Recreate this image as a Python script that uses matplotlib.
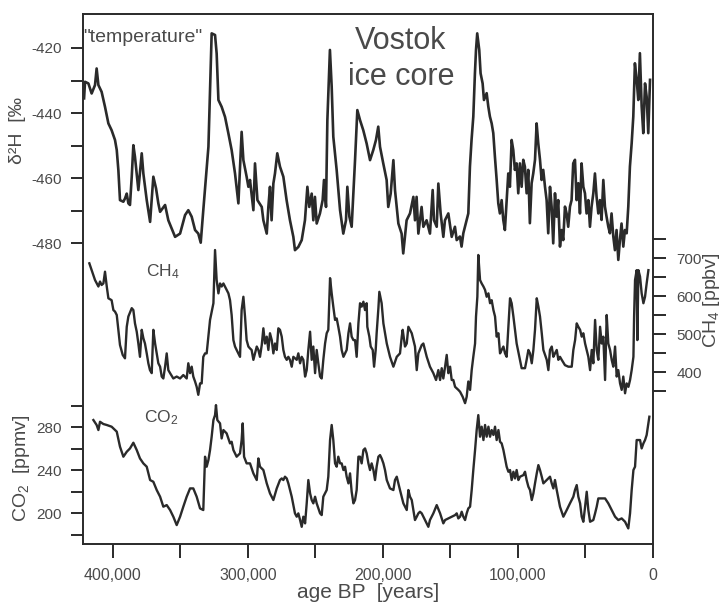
import matplotlib
matplotlib.use('Agg')
import matplotlib.pyplot as plt
from matplotlib.ticker import FuncFormatter, FixedLocator

plt.rcParams['font.family'] = ['Liberation Sans', 'DejaVu Sans']
plt.rcParams['mathtext.fontset'] = 'custom'
plt.rcParams['mathtext.rm'] = 'Liberation Sans'
plt.rcParams['mathtext.it'] = 'Liberation Sans:italic'
plt.rcParams['mathtext.default'] = 'regular'
plt.rcParams['axes.unicode_minus'] = False

# ---------------- data (age in kyr BP) ----------------
temp_age = [421.4, 420.7, 418.2, 415.8, 413.3, 412.1, 410.8, 408.4, 405.9, 403.4, 401.0, 398.5, 397.2, 396.0,
            394.8, 392.3, 391.1, 389.8, 388.6, 387.4, 386.1, 384.9, 383.7, 381.2, 378.7, 377.5, 375.0, 372.5,
            370.1, 368.1, 366.4, 365.1, 361.4, 359.0, 354.0, 350.3, 346.6, 344.2, 341.7, 339.2, 336.8, 335.0,
            333.1, 329.3, 326.9, 324.4, 323.2, 321.9, 319.5, 317.0, 314.5, 312.1, 309.6, 307.1, 304.7, 303.4,
            301.0, 299.7, 298.5, 296.0, 294.8, 293.0, 289.8, 288.6, 286.1, 284.9, 283.7, 282.5, 281.2, 280.0,
            278.3, 276.3, 273.8, 271.4, 268.9, 266.4, 265.2, 262.7, 260.2, 257.8, 256.0, 254.6, 252.8, 251.6,
            250.4, 249.1, 246.7, 244.7, 243.7, 242.2, 241.2, 239.3, 238.0, 236.8, 234.3, 231.8, 229.4, 227.4,
            226.4, 224.9, 223.2, 220.7, 219.0, 217.0, 214.6, 212.1, 209.6, 207.2, 205.2, 203.5, 202.2, 199.8,
            197.3, 196.1, 194.3, 192.3, 191.1, 188.6, 186.2, 185.0, 182.5, 180.0, 177.5, 176.3, 175.1, 173.8,
            171.4, 170.1, 167.7, 165.2, 163.2, 162.2, 160.2, 159.0, 157.3, 155.3, 154.1, 151.6, 149.1, 146.7,
            145.4, 143.0, 141.8, 140.5, 139.3, 136.8, 135.6, 134.4, 133.1, 131.9, 131.1, 130.2, 128.7, 127.7,
            126.2, 125.2, 123.2, 122.0, 120.8, 119.5, 118.3, 117.1, 115.8, 114.6, 113.4, 112.1, 110.9, 109.7,
            108.4, 107.2, 106.0, 104.7, 103.5, 102.3, 101.0, 99.8, 98.6, 97.3, 96.1, 94.9, 93.6, 92.4, 91.2,
            89.9, 88.7, 87.4, 86.2, 85.0, 83.7, 82.5, 81.3, 80.0, 78.8, 77.6, 76.3, 75.1, 73.9, 72.6, 71.4,
            70.2, 68.9, 67.7, 66.5, 65.2, 64.0, 62.8, 61.5, 60.3, 59.1, 57.8, 56.6, 55.3, 54.1, 52.9, 51.6,
            50.4, 49.2, 47.9, 46.7, 45.5, 44.2, 43.0, 41.8, 40.5, 39.3, 38.1, 36.8, 35.6, 34.4, 33.1, 31.9,
            30.7, 29.4, 28.2, 27.0, 25.7, 24.5, 23.3, 22.0, 20.8, 19.5, 18.3, 17.1, 15.8, 14.6, 13.4, 12.1,
            10.9, 9.7, 8.4, 7.2, 5.9, 4.7, 3.5, 2.2]
temp_dH = [-435.5, -430.4, -430.9, -434.0, -431.4, -426.3, -431.4, -433.5, -438.1, -443.2, -445.3, -448.3, -451.4, -457.6,
           -466.8, -467.3, -466.3, -464.8, -467.8, -468.3, -459.6, -449.9, -453.5, -463.7, -452.4, -458.6, -466.8, -473.5,
           -459.6, -463.2, -467.8, -470.4, -468.3, -473.0, -478.1, -477.1, -471.4, -469.9, -471.9, -476.0, -477.1, -479.9,
           -469.9, -450.4, -415.5, -416.0, -421.7, -436.0, -438.1, -441.2, -446.3, -451.4, -458.6, -467.8, -445.8, -454.5,
           -459.6, -462.7, -460.6, -469.9, -455.5, -466.8, -468.9, -473.0, -477.1, -468.9, -462.7, -473.0, -461.7, -458.6,
           -452.4, -456.5, -459.6, -466.8, -473.0, -478.1, -482.2, -481.2, -479.1, -473.0, -462.7, -468.9, -464.8, -473.0,
           -465.8, -474.0, -470.9, -466.8, -460.6, -468.9, -442.2, -420.6, -431.9, -447.3, -457.6, -469.9, -477.1, -473.0,
           -462.7, -471.9, -475.0, -454.5, -439.1, -442.2, -445.3, -449.4, -454.5, -451.4, -448.3, -444.2, -450.4, -455.5,
           -460.6, -468.9, -464.8, -454.5, -463.7, -474.0, -477.1, -483.2, -473.0, -470.9, -465.8, -473.0, -465.8, -477.1,
           -468.9, -475.0, -473.0, -477.1, -463.7, -473.0, -475.0, -461.7, -470.9, -478.1, -473.0, -470.9, -478.1, -475.0,
           -479.1, -478.0, -481.1, -477.0, -475.0, -470.9, -456.5, -448.3, -441.1, -427.8, -420.6, -415.5, -420.6, -427.8,
           -430.9, -436.0, -433.9, -438.0, -441.1, -443.2, -446.2, -453.4, -460.6, -467.8, -470.9, -466.8, -472.9, -476.0,
           -466.8, -458.6, -462.7, -448.3, -451.4, -457.5, -455.5, -464.7, -455.5, -462.7, -454.4, -456.5, -464.7, -457.5, -473.9,
           -461.6, -458.6, -454.4, -443.2, -449.3, -454.4, -460.6, -457.5, -462.7, -466.8, -477.0, -462.7, -468.8, -480.1, -464.7, -471.9,
           -466.8, -481.1, -476.0, -479.1, -468.8, -470.9, -475.0, -468.8, -466.8, -455.5, -454.4, -466.8, -461.6, -470.9, -455.5, -462.7,
           -464.7, -470.9, -466.8, -475.0, -468.8, -464.7, -458.6, -465.7, -470.9, -466.8, -472.9, -460.6, -468.8, -471.9, -475.0, -477.0,
           -470.9, -478.0, -482.2, -476.0, -485.2, -479.1, -474.0, -481.1, -476.0, -477.0, -468.8, -456.5, -449.3, -441.1, -424.7, -429.8,
           -436.0, -421.6, -438.0, -446.2, -430.9, -435.0, -446.2, -429.8]

ch4_age = [417.5, 415.8, 413.3, 410.8, 409.6, 408.4, 407.1, 405.9, 404.6, 403.4, 401.0, 399.7, 398.5, 397.2, 394.8,
           392.8, 391.1, 389.8, 388.6, 386.1, 384.9, 383.7, 382.4, 381.2, 380.0, 378.7, 377.5, 376.3, 375.0, 373.8,
           372.6, 371.3, 370.1, 368.8, 367.6, 366.4, 365.1, 363.9, 362.7, 361.4, 360.2, 359.0, 357.7, 355.3, 352.8,
           350.3, 347.9, 345.4, 344.2, 342.9, 341.7, 340.5, 339.2, 338.0, 336.8, 335.5, 334.3, 333.1, 331.8, 330.6,
           328.1, 325.6, 324.4, 323.2, 321.9, 320.7, 319.5, 318.2, 315.8, 314.5, 313.3, 312.1, 310.8, 309.6, 308.4,
           305.9, 304.7, 303.4, 302.2, 301.0, 299.7, 298.5, 297.3, 296.0, 294.8, 293.5, 292.3, 291.1, 289.8, 288.6,
           287.4, 286.1, 284.9, 283.7, 282.4, 281.2, 280.0, 278.7, 277.5, 276.3, 275.0, 273.8, 272.6, 271.3, 270.1,
           268.9, 267.6, 266.4, 265.2, 263.9, 262.7, 261.4, 260.2, 259.0, 257.7, 256.5, 255.3, 254.0, 252.8, 251.6,
           250.3, 249.1, 247.9, 246.6, 245.4, 244.2, 242.9, 241.7, 240.5, 239.2, 238.0, 236.8, 235.5, 234.3, 233.1,
           231.8, 230.6, 229.3, 226.9, 225.6, 224.4, 223.2, 221.9, 220.7, 219.5, 218.2, 217.0, 215.8, 214.5, 213.3,
           212.1, 211.6, 210.1, 209.1, 207.6, 206.6, 205.4, 204.7, 203.4, 202.7, 201.0, 199.7, 197.2, 194.8, 192.3,
           189.8, 187.4, 186.1, 185.4, 183.7, 182.4, 181.2, 178.7, 176.3, 175.0, 173.8, 171.3, 170.1, 167.6, 165.2,
           162.7, 160.7, 159.0, 157.7, 156.5, 155.3, 154.0, 152.8, 151.6, 150.3, 149.1, 147.9, 146.6, 144.2, 142.9,
           141.0, 139.2, 138.0, 136.8, 135.5, 134.3, 133.1, 131.8, 131.1, 130.1, 129.4, 128.1, 126.9, 125.6, 124.4,
           123.2, 121.9, 120.7, 119.5, 118.2, 117.0, 115.8, 114.5, 113.3, 112.1, 110.8, 109.6, 108.4, 107.1, 105.9,
           104.7, 103.4, 102.2, 101.0, 98.5, 97.3, 94.8, 93.6, 92.3, 91.1, 89.8, 88.6, 87.4, 86.1, 84.9, 83.7,
           82.4, 81.2, 78.7, 77.5, 76.3, 75.0, 73.8, 72.6, 71.3, 70.1, 68.9, 67.6, 65.2, 62.7, 60.2, 59.0, 57.7,
           56.5, 55.3, 54.0, 52.8, 51.6, 50.3, 49.1, 47.9, 46.6, 45.4, 44.2, 42.9, 41.7, 40.5, 39.2, 38.0, 36.8,
           35.5, 34.3, 33.1, 31.8, 30.6, 29.4, 28.1, 26.9, 25.7, 24.4, 23.2, 22.0, 20.7, 19.5, 18.2, 17.0, 15.8,
           14.5, 14.0, 13.3, 12.1, 11.6, 10.8, 9.6, 8.4, 7.1, 5.9, 4.7, 3.4]
ch4_ppbv = [686, 668, 642, 625, 638, 629, 633, 664, 625, 594, 589, 563, 559, 550, 471,
            445, 436, 519, 546, 568, 563, 528, 506, 475, 440, 511, 489, 475, 449, 423,
            405, 397, 511, 475, 449, 423, 414, 388, 383, 414, 449, 405, 397, 383, 388,
            383, 392, 383, 423, 397, 414, 388, 375, 361, 340, 370, 370, 440, 449, 449,
            537, 581, 721, 642, 607, 633, 625, 633, 616, 607, 589, 550, 484, 467, 458,
            440, 563, 598, 546, 484, 467, 462, 458, 432, 449, 467, 458, 440, 471, 515,
            475, 493, 458, 502, 484, 449, 475, 458, 515, 511, 493, 458, 440, 432, 440,
            432, 414, 440, 436, 432, 449, 423, 440, 432, 388, 405, 458, 506, 432, 467,
            397, 458, 423, 388, 383, 432, 475, 502, 511, 647, 607, 572, 537, 541, 519,
            493, 458, 440, 458, 502, 528, 493, 484, 484, 440, 528, 581, 572, 585, 563,
            581, 519, 493, 467, 458, 414, 458, 502, 568, 611, 581, 528, 475, 440, 414,
            440, 449, 493, 511, 467, 475, 519, 502, 467, 405, 449, 471, 475, 440, 414,
            397, 379, 405, 379, 410, 383, 414, 445, 397, 414, 379, 379, 361, 353, 348,
            335, 318, 335, 375, 353, 405, 440, 475, 546, 598, 708, 642, 633, 625, 616,
            598, 607, 581, 589, 563, 546, 493, 502, 449, 458, 467, 449, 440, 519, 594,
            581, 546, 511, 475, 432, 410, 410, 432, 458, 449, 423, 458, 511, 594, 572, 546,
            502, 458, 432, 405, 458, 467, 440, 449, 458, 432, 440, 432, 418, 414, 414, 458, 484,
            528, 519, 511, 493, 502, 475, 458, 440, 405, 458, 423, 537, 458, 432, 519, 475, 493,
            379, 550, 475, 458, 432, 414, 467, 388, 405, 370, 353, 388, 344, 370, 361, 379, 405,
            440, 546, 642, 668, 484, 668, 651, 607, 581, 598, 633, 668]

co2_age = [414.5, 412.1, 410.8, 409.6, 407.1, 404.6, 401.0, 397.2, 394.8, 392.3, 389.8, 387.4, 384.9, 382.4,
           380.0, 377.5, 375.0, 372.5, 370.1, 367.6, 365.1, 362.7, 360.2, 357.7, 355.3, 352.8, 350.3, 347.9,
           345.4, 342.9, 340.5, 338.0, 335.5, 333.1, 331.8, 330.6, 329.3, 328.1, 326.9, 325.6, 324.4, 323.7,
           322.7, 320.7, 319.5, 318.2, 315.8, 313.3, 312.1, 310.8, 308.4, 305.9, 304.7, 303.9, 302.9, 301.0,
           298.5, 296.0, 293.5, 292.3, 291.1, 288.6, 286.1, 283.7, 281.2, 278.7, 276.3, 275.0, 273.8, 272.6,
           271.3, 270.1, 267.6, 265.2, 263.9, 262.7, 261.4, 260.2, 259.0, 257.7, 256.5, 255.3, 254.0, 252.8,
           251.6, 250.3, 249.1, 246.6, 245.4, 244.2, 241.7, 240.5, 239.2, 238.0, 236.8, 235.5, 234.3, 233.1,
           231.8, 230.6, 229.3, 228.1, 226.9, 225.6, 224.4, 223.2, 221.9, 220.7, 219.5, 218.2, 217.0, 215.8,
           214.5, 213.3, 212.1, 210.8, 209.6, 208.4, 207.1, 205.9, 204.7, 203.4, 202.2, 201.0, 199.7, 198.5,
           197.2, 194.8, 192.3, 191.1, 189.8, 188.6, 187.4, 184.9, 182.4, 181.2, 180.0, 178.7, 177.5, 176.3,
           175.0, 173.8, 172.6, 171.3, 168.9, 166.4, 165.2, 162.7, 160.2, 157.7, 155.3, 154.0, 151.6, 149.1,
           146.6, 145.4, 144.2, 142.9, 141.7, 140.5, 139.2, 138.0, 136.8, 135.5, 134.3, 133.1, 131.8, 130.6,
           129.4, 128.1, 126.9, 125.6, 124.4, 123.2, 121.9, 120.7, 119.5, 118.2, 117.0, 115.8, 114.5, 113.3,
           112.1, 110.8, 109.6, 108.4, 107.1, 105.9, 104.7, 103.4, 102.2, 101.0, 99.7, 98.5, 96.0, 94.8, 93.6,
           92.3, 91.1, 89.8, 88.6, 87.4, 86.1, 84.9, 83.7, 82.4, 81.2, 78.7, 76.3, 75.0, 73.8, 72.6, 71.3,
           68.9, 66.4, 63.9, 61.5, 59.0, 57.8, 56.5, 55.3, 54.0, 52.8, 51.6, 50.3, 49.1, 47.9, 46.6, 44.2,
           42.9, 41.7, 40.5, 38.0, 35.5, 33.1, 30.6, 28.1, 25.7, 23.2, 20.7, 18.3, 17.0, 15.8, 14.5, 13.3,
           12.1, 10.8, 9.6, 8.4, 7.1, 5.9, 4.7, 3.4, 2.7]
co2_ppmv = [286.5, 281.9, 277.2, 284.9, 282.8, 281.9, 280.3, 275.7, 261.7, 252.4, 257.0, 260.1, 265.4, 258.6,
            250.8, 246.2, 243.1, 230.7, 229.1, 221.4, 215.2, 205.9, 207.4, 202.8, 196.6, 188.8, 196.6, 205.9,
            215.2, 222.9, 222.9, 215.2, 204.3, 202.8, 252.4, 243.1, 249.3, 258.6, 271.0, 286.5, 291.1, 300.4,
            286.5, 283.4, 269.4, 277.2, 274.1, 264.8, 266.3, 258.6, 252.4, 255.5, 267.9, 283.4, 252.4, 246.2,
            246.2, 236.9, 230.7, 250.8, 243.1, 240.0, 227.6, 218.3, 212.1, 222.9, 230.7, 232.2, 230.7, 233.8,
            232.2, 227.6, 215.2, 199.7, 196.6, 199.7, 193.5, 187.2, 196.6, 190.4, 209.0, 230.7, 218.3, 212.1,
            209.0, 215.2, 209.0, 199.7, 198.1, 215.2, 221.4, 233.8, 267.9, 281.9, 267.9, 246.2, 243.1, 252.4,
            246.2, 246.2, 240.0, 243.1, 233.8, 227.6, 236.9, 219.8, 209.0, 212.1, 221.4, 252.4, 252.4, 246.2,
            258.6, 260.1, 255.5, 246.2, 240.0, 246.2, 240.0, 230.7, 243.1, 252.4, 253.9, 250.8, 246.2, 240.0,
            230.7, 222.9, 221.4, 230.7, 233.8, 227.6, 221.4, 209.0, 202.8, 221.4, 215.2, 212.1, 202.8, 193.5,
            196.6, 199.7, 201.2, 199.7, 193.5, 187.2, 193.5, 199.7, 207.4, 199.7, 190.4, 193.5, 195.0, 196.6,
            198.1, 199.7, 195.0, 196.6, 201.2, 196.6, 193.5, 199.7, 204.3, 205.9, 221.4, 240.0, 258.6, 277.2,
            291.1, 271.0, 280.3, 267.9, 281.9, 271.0, 280.3, 271.0, 277.2, 272.6, 280.3, 267.9, 277.2, 266.3,
            264.8, 258.6, 250.8, 243.1, 238.4, 240.0, 230.7, 238.4, 232.2, 240.0, 230.7, 233.8, 235.3, 238.4, 230.7,
            224.5, 221.4, 212.1, 218.3, 227.6, 236.9, 244.6, 240.0, 233.8, 227.6, 230.7, 233.8, 227.6, 222.9, 230.7, 221.4,
            205.9, 196.6, 202.8, 209.0, 215.2, 221.4, 226.0, 215.2, 209.0, 196.6, 191.9, 205.9, 219.8, 202.8, 191.9, 193.5,
            199.7, 205.9, 213.6, 213.6, 213.6, 209.0, 202.8, 196.6, 193.5, 195.0, 191.9, 185.7, 199.7, 221.4, 240.0, 243.1,
            267.9, 267.9, 267.9, 260.1, 264.8, 267.9, 272.6, 283.4, 289.6]

age_major = [0, 100, 200, 300, 400]
age_minor = [50, 150, 250, 350]
dH_major = [-420, -440, -460, -480]
dH_minor = [-430, -450, -470]
ch4_major = [400, 500, 600, 700]
ch4_minor = [350, 450, 550, 650, 750]
co2_major = [200, 240, 280]
co2_minor = [180, 220, 260, 300]

# ---------------- layout ----------------
W, H = 721, 603
fig = plt.figure(figsize=(W / 100, H / 100), dpi=100)
rect = [83 / W, 59 / H, 570 / W, 530 / H]
TXT = '#4a4a4a'
LN = '#2a2a2a'
XLIM = (422.2, 0)

ax = fig.add_axes(rect)
ax.set_xlim(*XLIM)
ax.set_ylim(0, 1)
ax.set_yticks([])
for s in ax.spines.values():
    s.set_color(LN)
    s.set_linewidth(1.4)
ax.xaxis.set_major_locator(FixedLocator(age_major))
ax.xaxis.set_minor_locator(FixedLocator(age_minor))
ax.xaxis.set_major_formatter(FuncFormatter(lambda v, p: f"{int(round(v * 1000)):,}"))
ax.tick_params(axis='x', which='both', direction='out', length=10, width=1.4,
               color=LN, labelsize=11.5, labelcolor=TXT, pad=7)
ax.set_xlabel('age BP  [years]', fontsize=15, color=TXT, labelpad=0)


def overlay(ylim, side, major, minor):
    a = fig.add_axes(rect, frameon=False)
    a.set_xlim(*XLIM)
    a.set_ylim(*ylim)
    a.xaxis.set_visible(False)
    a.yaxis.set_ticks_position(side)
    a.set_yticks(major)
    a.set_yticks(minor, minor=True)
    a.tick_params(axis='y', which='both', direction='out', length=9, width=1.4,
                  color=LN, labelsize=11, labelcolor=TXT, pad=6)
    a.patch.set_visible(False)
    return a


ax_t = overlay((-572.6, -409.54), 'left', dH_major, dH_minor)
ax_t.plot(temp_age, temp_dH, color=LN, lw=1.9)

ax_m = overlay((-52.6, 1342.1), 'right', ch4_major, ch4_minor)
ax_m.tick_params(axis='y', pad=8)
ax_m.plot(ch4_age, ch4_ppbv, color=LN, lw=1.7)

ax_c = overlay((171.2, 664.2), 'left', co2_major, co2_minor)
ax_c.plot(co2_age, co2_ppmv, color=LN, lw=1.7)


def ftext(x, y, s, **kw):
    fig.text(x / W, 1 - y / H, s, **kw)


ftext(18, 131, 'δ²H  [‰', rotation=90, ha='center', va='center', fontsize=14, color=TXT)
ftext(22, 468, 'CO$_2$  [ppmv]', rotation=90, ha='center', va='center', fontsize=14, color=TXT)
ftext(711, 300, 'CH$_4$ [ppbv]', rotation=90, ha='center', va='center', fontsize=14, color=TXT)
ftext(83, 38, '"temperature"', ha='left', va='center', fontsize=14, color=TXT)
ftext(163, 272, 'CH$_4$', ha='center', va='center', fontsize=12.5, color=TXT)
ftext(161, 418, 'CO$_2$', ha='center', va='center', fontsize=12.5, color=TXT)
ftext(401, 59, 'Vostok\nice core', ha='center', va='center', fontsize=22, color=TXT, linespacing=1.3)

fig.savefig('out.png', dpi=100)
